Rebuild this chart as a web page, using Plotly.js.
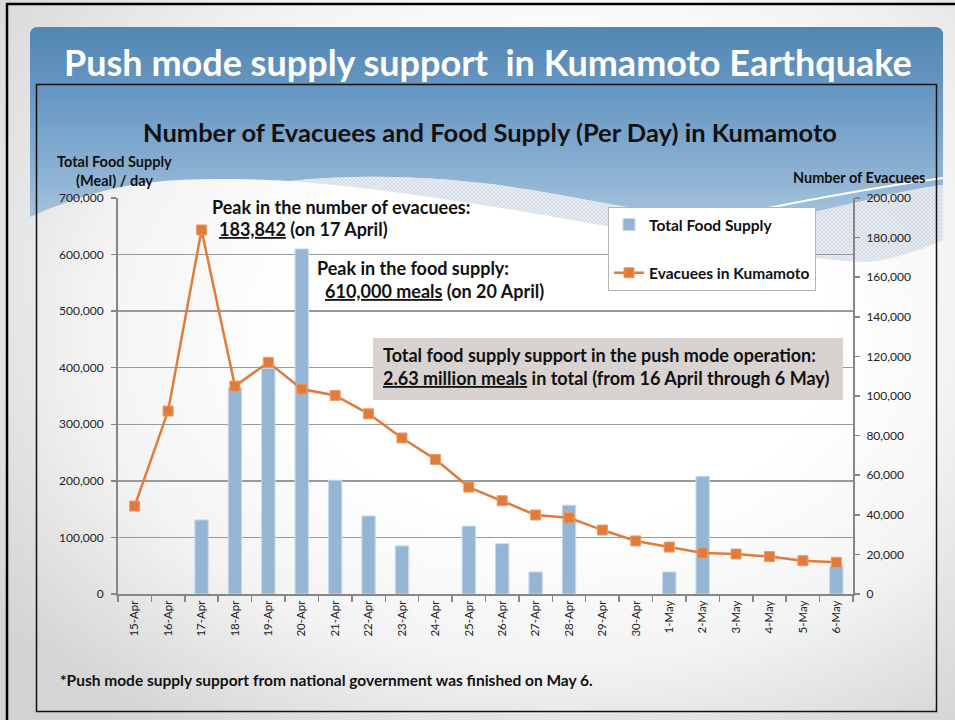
<!DOCTYPE html>
<html>
<head>
<meta charset="utf-8">
<script src="https://cdn.plot.ly/plotly-3.0.1.min.js"></script>
<style>
  html, body { margin: 0; padding: 0; }
  #wrap { position: relative; width: 955px; height: 720px; overflow: hidden;
          background: radial-gradient(ellipse 75% 80% at 58% 38%, #ffffff 35%, #f2f2f2 60%, #d2d2d2 100%); }
  #bg { position: absolute; left: 0; top: 0; }
  #chart { position: absolute; left: 0; top: 0; width: 955px; height: 720px; }
</style>
</head>
<body>
<div id="wrap">
<svg id="bg" width="955" height="720" xmlns="http://www.w3.org/2000/svg">
  <defs>
    <linearGradient id="blueG" gradientUnits="userSpaceOnUse" x1="0" y1="27" x2="0" y2="270">
      <stop offset="0" stop-color="#5386b4"/>
      <stop offset="0.28" stop-color="#6898c3"/>
      <stop offset="0.6" stop-color="#8cb1d3"/>
      <stop offset="1" stop-color="#c3d8ea"/>
    </linearGradient>
    <radialGradient id="innerG" cx="0.58" cy="0.4" r="0.75">
      <stop offset="0.4" stop-color="#ffffff"/>
      <stop offset="0.7" stop-color="#f3f3f3"/>
      <stop offset="1" stop-color="#d6d6d6"/>
    </radialGradient>
    <pattern id="hatch" width="4" height="4" patternUnits="userSpaceOnUse">
      <rect width="4" height="4" fill="#c9d5e0"/>
      <path d="M0,0 L4,4 M4,0 L0,4" stroke="#e4e9ee" stroke-width="0.8"/>
    </pattern>
  </defs>
  <rect x="36" y="84" width="901" height="628" fill="url(#innerG)"/>
  <path d="M30,35 Q30,27 38,27 L935,27 Q943,27 943,35 L943,185
           C900,190 850,205 800,215 C720,225 640,210 560,195
           C470,178 380,172 290,181 C200,176 140,180 100,192 C70,200 45,210 30,217 Z"
        fill="url(#blueG)"/>
  <path d="M290,181 C380,172 470,178 560,195 C640,210 720,225 800,215 C850,205 900,190 943,185
           L943,240 C925,248 900,258 870,262 C830,262 760,250 700,242
           C640,232 560,218 520,211 C450,200 380,188 290,181 Z"
        fill="url(#hatch)" opacity="0.75"/>
  <path d="M700,222 C780,205 870,188 943,178" stroke="#ffffff" stroke-width="2" fill="none"/>
  <rect x="36.5" y="84.5" width="900" height="627" fill="none" stroke="#111" stroke-width="1.5"/>
  <line x1="6" y1="4" x2="955" y2="4" stroke="#000" stroke-width="2.5"/>
  <line x1="7" y1="3" x2="7" y2="720" stroke="#000" stroke-width="2.5"/>
</svg>
<div id="chart"></div>
</div>
<script>
// ---- data ----
const dates = ['15-Apr','16-Apr','17-Apr','18-Apr','19-Apr','20-Apr','21-Apr','22-Apr','23-Apr','24-Apr',
               '25-Apr','26-Apr','27-Apr','28-Apr','29-Apr','30-Apr','1-May','2-May','3-May','4-May','5-May','6-May'];
const foodSupply = [null, null, 131000, 365000, 399000, 610000, 201000, 138000, 85000, null,
                    120000, 89000, 39000, 157000, null, null, 39000, 208000, null, null, null, 49500];
const evacuees = [44400, 92400, 183842, 105000, 117000, 103500, 100300, 91000, 78800, 68000,
                  54000, 47100, 39900, 38500, 32300, 26800, 23700, 20700, 20200, 18900, 16800, 16000];
const leftTicks = [0, 100000, 200000, 300000, 400000, 500000, 600000, 700000];
const rightTicks = [0, 20000, 40000, 60000, 80000, 100000, 120000, 140000, 160000, 180000, 200000];

// ---- geometry helpers (plot area in page pixels) ----
const PL = 118, PR = 853, PT = 198, PB = 594;
const px = x => (x - PL) / (PR - PL);
const py = y => (PB - y) / (PB - PT);
const FONT = 'Lato, "Open Sans", sans-serif';

function ann(text, x, y, size, opts) {
  return Object.assign({
    text: text, xref: 'paper', yref: 'paper', x: px(x), y: py(y),
    xanchor: 'left', yanchor: 'middle', showarrow: false,
    font: { family: FONT, size: size, color: '#111', weight: 'bold' }
  }, opts || {});
}
const U = s => '<span style="text-decoration:underline;text-decoration-thickness:2px">' + s + '</span>';

const traces = [
  {
    type: 'bar', name: 'Total Food Supply', x: dates, y: foodSupply, yaxis: 'y',
    marker: { color: '#94b6d4', line: { color: '#c8daeb', width: 1 } },
    legendgroup: 'a', hoverinfo: 'x+y'
  },
  {
    type: 'scatter', mode: 'lines+markers', name: 'Evacuees in Kumamoto', x: dates, y: evacuees, yaxis: 'y2',
    line: { color: '#e07b3a', width: 2.5 },
    marker: { symbol: 'square', size: 10, color: '#e07b3a', line: { color: '#eb9a66', width: 1 } },
    legendgroup: 'b', hoverinfo: 'x+y'
  }
];

const axisCommon = {
  showline: true, linecolor: '#878787', linewidth: 2,
  ticks: 'outside', tickcolor: '#878787', tickwidth: 1.5, ticklen: 5,
  tickfont: { family: FONT, size: 12, color: '#222' }, zeroline: false
};

const layout = {
  width: 955, height: 720,
  margin: { l: PL, r: 955 - PR, t: PT, b: 720 - PB },
  paper_bgcolor: 'rgba(0,0,0,0)', plot_bgcolor: 'rgba(0,0,0,0)',
  bargap: 0.6,
  showlegend: true,
  legend: {
    x: px(608), y: py(207), xanchor: 'left', yanchor: 'top',
    bgcolor: '#ffffff', bordercolor: '#b5b5b5', borderwidth: 1,
    traceorder: 'grouped', tracegroupgap: 25,
    font: { family: FONT, size: 15.5, color: '#111', weight: 'bold' }
  },
  xaxis: Object.assign({}, axisCommon, {
    type: 'category', range: [-0.5, dates.length - 0.5], autorange: false,
    tickson: 'boundaries', ticklen: 6, tickangle: -90, showgrid: false,
    tickfont: { family: FONT, size: 11.5, color: '#222' }
  }),
  yaxis: Object.assign({}, axisCommon, {
    range: [0, 700000], tickvals: leftTicks, tickformat: ',d',
    showgrid: true, gridcolor: '#9a9a9a', gridwidth: 1.5, ticklabelstandoff: 5
  }),
  yaxis2: Object.assign({}, axisCommon, {
    overlaying: 'y', side: 'right', range: [0, 200000], tickvals: rightTicks, tickformat: ',d',
    showgrid: false, ticklabelstandoff: 4
  }),
  shapes: [
    { type: 'rect', xref: 'paper', yref: 'paper', x0: px(373), x1: px(843), y0: py(338), y1: py(400),
      fillcolor: '#d8d3d0', line: { width: 0 }, layer: 'above' }
  ],
  annotations: [
    ann('Push mode supply support\u00a0\u00a0in Kumamoto Earthquake', 488, 62, 36,
        { xanchor: 'center', font: { family: FONT, size: 36, color: '#ffffff', weight: 'bold' } }),
    ann('Number of Evacuees and Food Supply (Per Day) in Kumamoto', 490, 132, 25.5, { xanchor: 'center' }),
    ann('Total Food Supply', 114, 161, 14.5, { xanchor: 'center' }),
    ann('(Meal) / day', 114, 181, 14.5, { xanchor: 'center' }),
    ann('Number of Evacuees', 859, 178, 14.5, { xanchor: 'center' }),
    ann('Peak in the number of evacuees:', 210, 207, 18),
    ann(U('183,842') + ' (on 17 April)', 217, 229, 18),
    ann('Peak in the food supply:', 315, 268, 18),
    ann(U('610,000 meals') + ' (on 20 April)', 323, 291, 18),
    ann('Total food supply support in the push mode operation:', 381, 355, 18),
    ann(U('2.63 million meals') + ' in total (from 16 April through 6 May)', 381, 378, 18),
    ann('*Push mode supply support from national government was finished on May 6.', 58, 680, 15.5)
  ]
};

Plotly.newPlot('chart', traces, layout, { displayModeBar: false, staticPlot: true });
</script>
</body>
</html>
